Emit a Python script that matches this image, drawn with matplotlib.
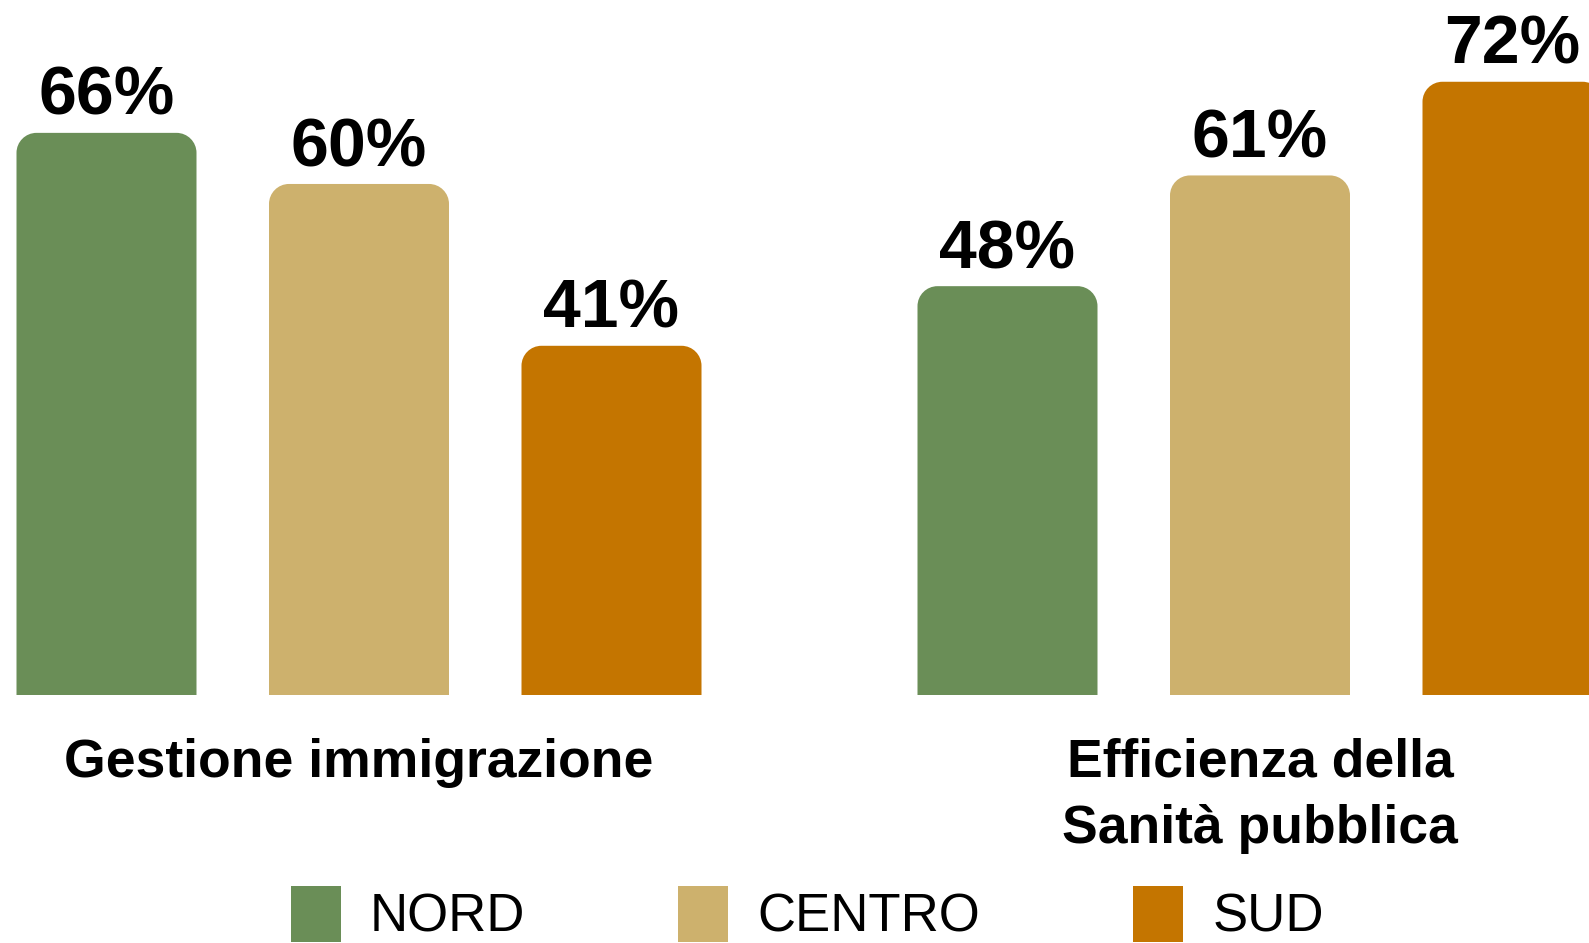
import matplotlib
matplotlib.use("Agg")
import matplotlib.pyplot as plt
from matplotlib.path import Path
from matplotlib.patches import PathPatch, Patch

# dati
categorie = ["Gestione immigrazione", "Efficienza della\nSanità pubblica"]
aree = ["NORD", "CENTRO", "SUD"]
nord = [66, 48]
centro = [60, 61]
sud = [41, 72]
colori = ["#6A8E57", "#CDB16D", "#C47500"]

plt.rcParams["font.family"] = ["Liberation Sans", "DejaVu Sans"]

W, H = 15.89, 9.43
fig = plt.figure(figsize=(W, H), dpi=100)
ax = fig.add_axes([0, 0.263, 1, 0.737])

# scala: 1 unita' x = 252.5 px, asse y 0..81.6 %
px_x = 252.5
ax.set_xlim(-359 / px_x, (1589 - 359) / px_x)
ax.set_ylim(0, 81.6)
px_y = 695 / 81.6

larghezza = 180 / px_x
passo_gruppo = 901 / px_x
raggio_px = 20
rx = raggio_px / px_x
ry = raggio_px / px_y
k = 0.5523


def barra_arrotondata(x, w, h, colore):
    x0, x1 = x - w / 2, x + w / 2
    verts = [
        (x0, 0), (x0, h - ry),
        (x0, h - ry + k * ry), (x0 + rx - k * rx, h), (x0 + rx, h),
        (x1 - rx, h),
        (x1 - rx + k * rx, h), (x1, h - ry + k * ry), (x1, h - ry),
        (x1, 0), (x0, 0),
    ]
    codes = [Path.MOVETO, Path.LINETO,
             Path.CURVE4, Path.CURVE4, Path.CURVE4,
             Path.LINETO,
             Path.CURVE4, Path.CURVE4, Path.CURVE4,
             Path.LINETO, Path.CLOSEPOLY]
    ax.add_patch(PathPatch(Path(verts, codes), facecolor=colore,
                           edgecolor="none"))


serie = [nord, centro, sud]
for g in range(len(categorie)):
    for s, valori in enumerate(serie):
        x = g * passo_gruppo + (s - 1)
        v = valori[g]
        barra_arrotondata(x, larghezza, v, colori[s])
        ax.text(x, v + 2.1, f"{v}%", ha="center", va="baseline",
                fontsize=49, fontweight="bold", color="black")

ax.axis("off")

# etichette categorie
for g, cat in enumerate(categorie):
    x = g * passo_gruppo
    ax.text(x, -5.0, cat, ha="center", va="top", fontsize=38.5,
            fontweight="bold", linespacing=1.42,
            transform=ax.transData, clip_on=False)

# legenda
maniglie = [Patch(facecolor=c, edgecolor="none") for c in colori]
leg = fig.legend(maniglie, aree, loc="lower center", ncol=3,
                 bbox_to_anchor=(0.508, -0.05), frameon=False,
                 prop={"size": 38},
                 handlelength=0.95, handleheight=1.25, handletextpad=0.55,
                 columnspacing=2.9)

fig.savefig("out.png", dpi=100)
